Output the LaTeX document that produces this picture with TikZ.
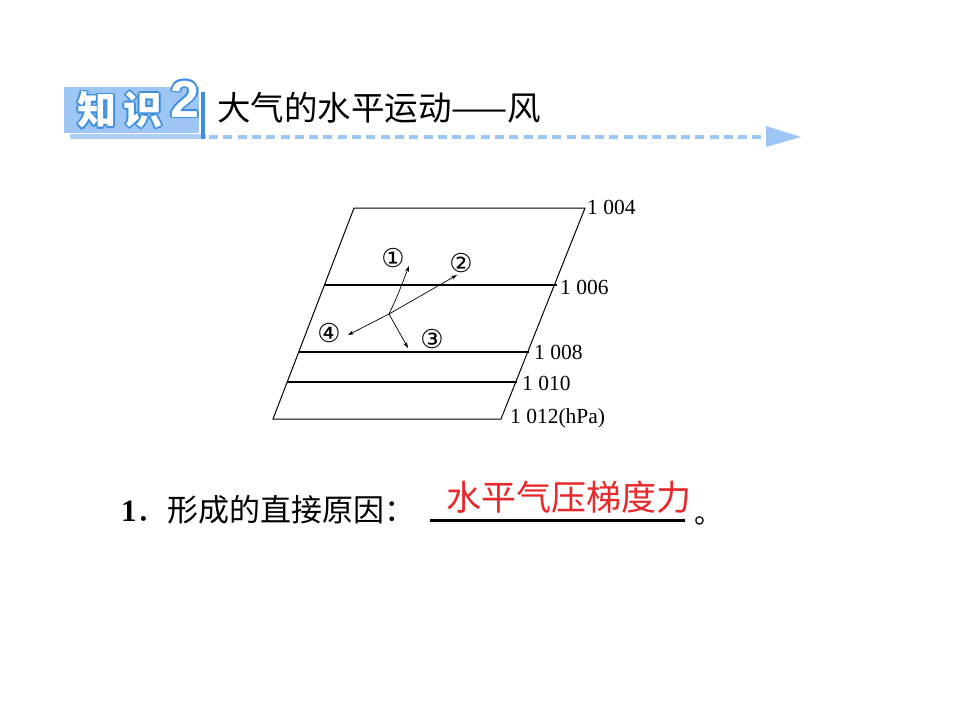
\documentclass[tikz,border=0pt]{standalone}
\usepackage{fontspec}
\setmainfont{Liberation Serif}
\newfontfamily\cjk{Noto Sans CJK SC}
\newfontfamily\dejavu{DejaVu Sans}
\newfontfamily\lsans{Liberation Sans}
\usetikzlibrary{arrows.meta}
\definecolor{lblue}{HTML}{9DC6F4}
\definecolor{mblue}{HTML}{3F8FDD}
\definecolor{ansred}{HTML}{E8282B}
\tikzset{
  isobar/.style={line width=1.1pt, black},
  wind/.style={line width=0.7pt, -{Stealth[length=6pt,width=4pt]}},
  pres/.style={anchor=west, inner sep=1pt, font=\fontsize{21.5}{23}\selectfont},
  circnum/.style={inner sep=0pt, font=\dejavu\fontsize{26}{27}\selectfont},
  badgecj/.style={font=\cjk\bfseries\fontsize{39}{40}\selectfont},
  badgenum/.style={font=\lsans\bfseries\fontsize{52}{54}\selectfont},
}
\begin{document}
\begin{tikzpicture}[x=1pt,y=-1pt]
\useasboundingbox (0,0) rectangle (960,720);
\fill[white] (0,0) rectangle (960,720);

% ---- badge ----
\fill[lblue] (64,87) rectangle (199,133);
\fill[lblue!85] (70,134) rectangle (206,139);
\fill[mblue] (201,92) rectangle (205,139);
\foreach \dx/\dy in {-1.8/0,1.8/0,0/-1.8,0/1.8,-1.3/-1.3,1.3/1.3,-1.3/1.3,1.3/-1.3}{
  \node[mblue, badgecj] at (97+\dx,110+\dy) {知};
  \node[mblue, badgecj] at (143+\dx,110+\dy) {识};
  \node[mblue, badgenum] at (185+\dx,99+\dy) {2};
}
\node[white, badgecj] (zhi) at (97,110) {知};
\node[white, badgecj] (shi) at (143,110) {识};
\node[white, badgenum] (two) at (185,99) {2};

% ---- title ----
\node[anchor=west, inner sep=0pt, font=\cjk\fontsize{33.5}{35}\selectfont] (title) at (217,108) {大气的水平运动——风};

% ---- dashed arrow ----
\coordinate (ds) at (209,137);
\coordinate (de) at (768,137);
\coordinate (at1) at (766,126);
\coordinate (at2) at (801,137);
\coordinate (at3) at (766,147);
\draw[lblue, line width=4pt, dash pattern=on 9pt off 5.3pt] (ds) -- (de);
\fill[lblue] (at1) -- (at2) -- (at3) -- cycle;

% ---- diagram ----
\coordinate (TL) at (354,208);
\coordinate (TR) at (585,208);
\coordinate (BL) at (273,419);
\coordinate (BR) at (501,419);
\coordinate (A1) at (325,285); \coordinate (A2) at (557,285);
\coordinate (B1) at (299,352); \coordinate (B2) at (529,352);
\coordinate (C1) at (287,382); \coordinate (C2) at (517,382);
\draw[line width=1pt] (TL) -- (TR) -- (BR) -- (BL) -- cycle;
\draw[isobar] (A1) -- (A2);
\draw[isobar] (B1) -- (B2);
\draw[isobar] (C1) -- (C2);

\node[pres] (p1) at (586,207) {1 004};
\node[pres] (p2) at (559,287) {1 006};
\node[pres] (p3) at (533,352) {1 008};
\node[pres] (p4) at (521,383) {1 010};
\node[pres] (p5) at (509,418) {1 012(hPa)};

\coordinate (O) at (389,314);
\coordinate (W1) at (409,266);
\coordinate (W2) at (457,275);
\coordinate (W3) at (408,348);
\coordinate (W4) at (348,335);
\draw[wind] (O) .. controls (397,297) .. (W1);
\draw[wind] (O) -- (W2);
\draw[wind] (O) -- (W3);
\draw[wind] (O) -- (W4);

\node[circnum] (n1) at (393,258) {①};
\node[circnum] (n2) at (461,263) {②};
\node[circnum] (n3) at (432,339) {③};
\node[circnum] (n4) at (329,333) {④};

% ---- question ----
\node[anchor=west, inner sep=0pt, font=\fontsize{31}{33}\selectfont] (q) at (121,510) {\textbf{1}\cjk．形成的直接原因：};
\coordinate (u1) at (430,520);
\coordinate (u2) at (685,520);
\draw[line width=3pt] (u1) -- (u2);
\node[ansred, inner sep=0pt, font=\cjk\fontsize{35}{36}\selectfont] (ans) at (569,497) {水平气压梯度力};
\node[anchor=base west, inner sep=0pt, font=\cjk\fontsize{28}{30}\selectfont] (dot) at (694,523) {。};
\end{tikzpicture}
\end{document}
